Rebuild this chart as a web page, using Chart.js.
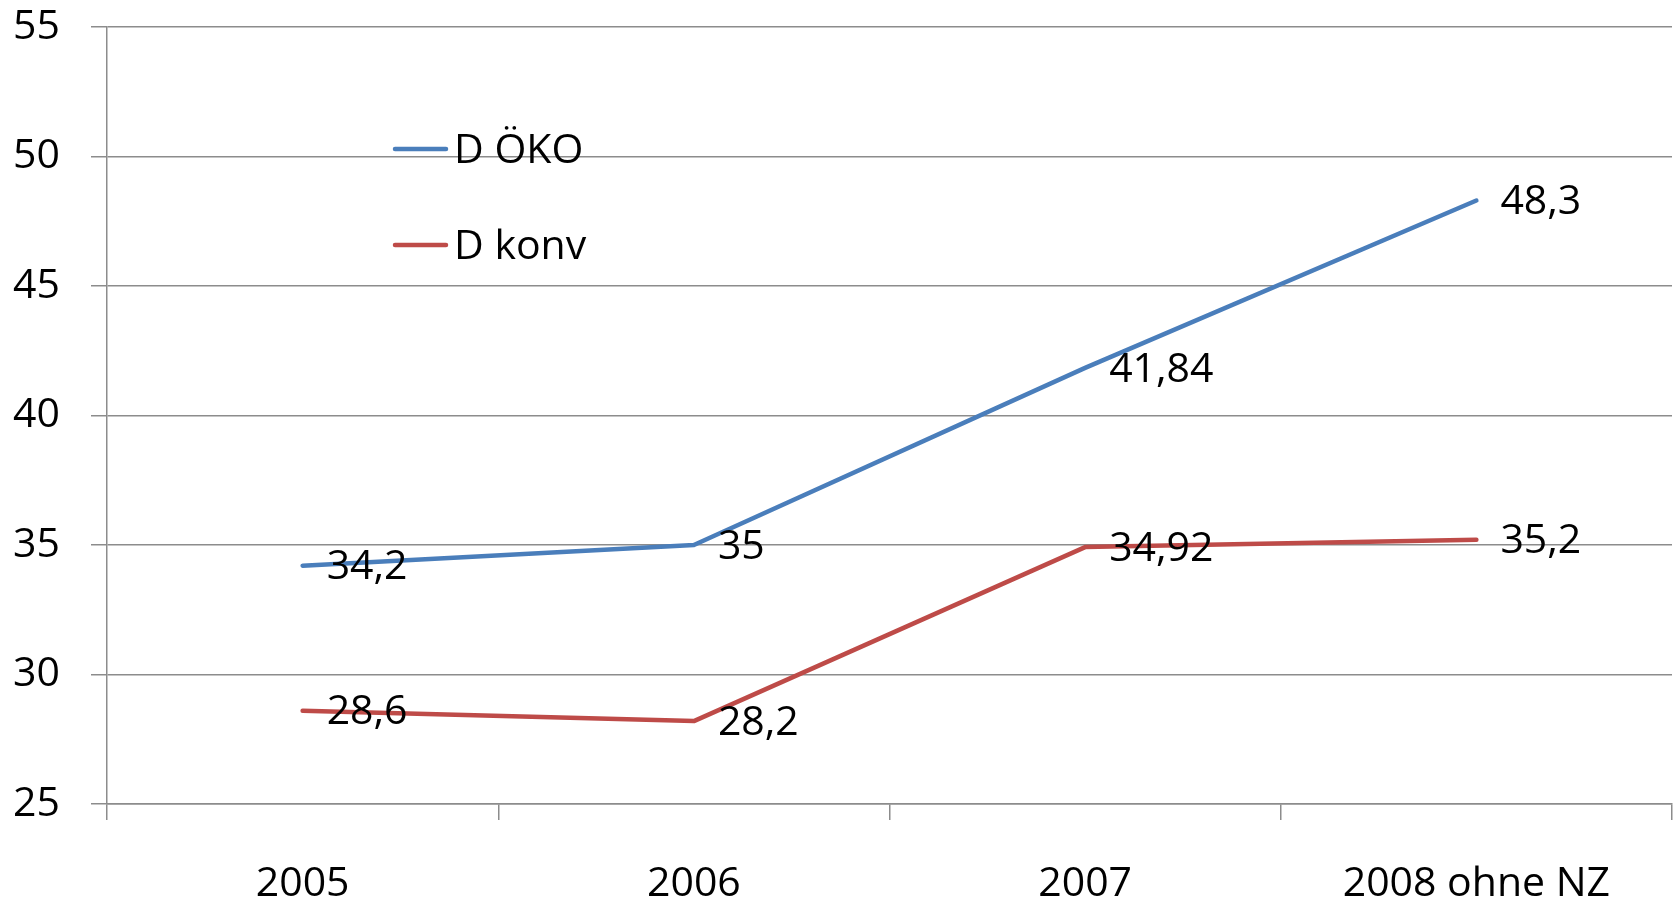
<!DOCTYPE html>
<html>
<head>
<meta charset="utf-8">
<script src="https://cdn.jsdelivr.net/npm/chart.js@4.4.1/dist/chart.umd.min.js"></script>
<style>
  html, body { margin: 0; padding: 0; background: #fff; }
  #wrap { width: 1675px; height: 899px; }
</style>
</head>
<body>
<div id="wrap"><canvas id="myChart" width="1675" height="899"></canvas></div>
<script>
var labels = ['2005', '2006', '2007', '2008 ohne NZ']
var oeko = [34.2, 35, 41.84, 48.3]
var konv = [28.6, 28.2, 34.92, 35.2]
var yTicks = [25, 30, 35, 40, 45, 50, 55]

var FONT = '"Open Sans", "Noto Sans", sans-serif'
var gridColor = '#8c8c8c'

// value labels to the right of each point, comma as decimal sign
var valueLabels = {
    id: 'valueLabels',
    afterDatasetsDraw(chart) {
        var ctx = chart.ctx
        ctx.save()
        ctx.font = '41px ' + FONT
        ctx.fillStyle = '#000'
        ctx.textAlign = 'left'
        ctx.textBaseline = 'middle'
        chart.data.datasets.forEach((ds, i) => {
            chart.getDatasetMeta(i).data.forEach((pt, j) => {
                var txt = String(ds.data[j]).replace('.', ',')
                ctx.fillText(txt, pt.x + 24, pt.y + 2)
            })
        })
        ctx.restore()
    }
}

// legend inside the plot area, top left
var innerLegend = {
    id: 'innerLegend',
    afterDraw(chart) {
        var ctx = chart.ctx
        ctx.save()
        ctx.font = '41px ' + FONT
        ctx.textBaseline = 'middle'
        ctx.textAlign = 'left'
        var rows = [149, 245]
        chart.data.datasets.forEach((ds, i) => {
            var y = rows[i]
            ctx.strokeStyle = ds.borderColor
            ctx.lineWidth = 4.5
            ctx.lineCap = 'round'
            ctx.beginPath()
            ctx.moveTo(395, y)
            ctx.lineTo(446, y)
            ctx.stroke()
            ctx.fillStyle = '#000'
            ctx.fillText(ds.label, 454, y + 2)
        })
        ctx.restore()
    }
}

var ctx = document.getElementById('myChart').getContext('2d')
var myChart = new Chart(ctx, {
    type: 'line',
    data: {
        labels: labels,
        datasets: [{
            label: 'D ÖKO',
            data: oeko,
            borderColor: '#4a7ebb',
            borderWidth: 4.5,
            pointRadius: 0,
            tension: 0,
            borderJoinStyle: 'round',
            borderCapStyle: 'round'
        }, {
            label: 'D konv',
            data: konv,
            borderColor: '#be4b48',
            borderWidth: 4.5,
            pointRadius: 0,
            tension: 0,
            borderJoinStyle: 'round',
            borderCapStyle: 'round'
        }]
    },
    options: {
        responsive: false,
        animation: false,
        layout: { padding: { top: 27, right: 3, left: 0, bottom: 0 } },
        plugins: {
            legend: { display: false },
            tooltip: { enabled: false }
        },
        scales: {
            x: {
                offset: true,
                grid: {
                    offset: true,
                    drawOnChartArea: false,
                    drawTicks: true,
                    tickLength: 16,
                    color: gridColor,
                    lineWidth: 1.5
                },
                border: { color: gridColor, width: 1.5 },
                ticks: {
                    color: '#000',
                    font: { family: FONT, size: 41 },
                    padding: 40,
                    maxRotation: 0
                },
                afterFit(scale) {
                    scale.height = 95
                    scale.paddingLeft = 0
                    scale.paddingRight = 0
                }
            },
            y: {
                min: 25,
                max: 55,
                afterBuildTicks(scale) {
                    scale.ticks = yTicks.map(v => ({ value: v }))
                },
                grid: {
                    color: gridColor,
                    lineWidth: 1.5,
                    tickLength: 16
                },
                border: { color: gridColor, width: 1.5 },
                ticks: {
                    color: '#000',
                    font: { family: FONT, size: 41 },
                    padding: 31
                },
                afterFit(scale) {
                    scale.width = 107
                    scale.paddingTop = 0
                    scale.paddingBottom = 0
                }
            }
        }
    },
    plugins: [valueLabels, innerLegend]
})
</script>
</body>
</html>
